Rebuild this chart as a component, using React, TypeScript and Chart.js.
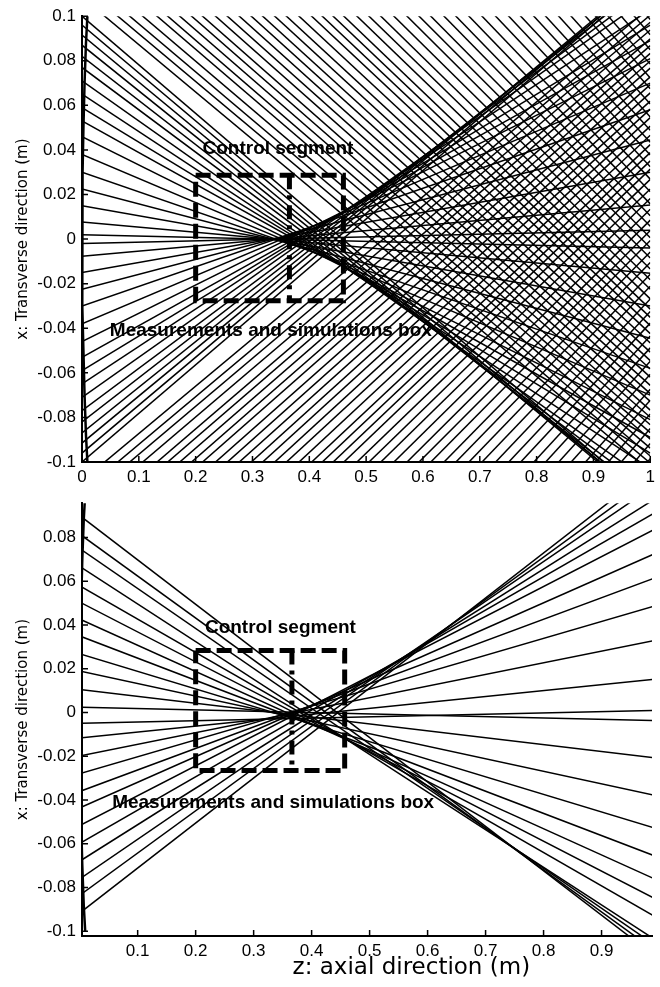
import React, { useEffect, useRef } from 'react';
import { Chart, registerables } from 'chart.js';

Chart.register(...registerables);

// ---------- TOP PANEL DATA ----------
// Rays launched from the upper half of the aperture: x (m) at z = 0 and at z = 1.
// Rays from the lower half of the aperture are the mirror images.
const topRayXAtZ0 = [
  0.002, 0.0077, 0.015, 0.0225, 0.03, 0.038, 0.046, 0.053, 0.059, 0.065, 0.071, 0.077,
  0.082, 0.087, 0.0915, 0.096, 0.1,
  0.1085, 0.1135, 0.1181, 0.1232, 0.1289, 0.1332, 0.1381, 0.143, 0.1476, 0.1531, 0.1582,
  0.1634, 0.1687, 0.1738, 0.1793, 0.1847, 0.1906, 0.1966, 0.2017, 0.207, 0.2123, 0.2189,
  0.225, 0.2311, 0.238, 0.245, 0.2515, 0.258, 0.2654, 0.2722, 0.2797, 0.2874, 0.2956,
  0.3036, 0.311, 0.3193, 0.3269, 0.3354, 0.3437, 0.3534, 0.3604, 0.3693, 0.3786, 0.3881,
  0.3979,
];
const topRayXAtZ1 = [
  -0.004, -0.0153, -0.03, -0.0445, -0.058, -0.07, -0.081, -0.089, -0.096, -0.103, -0.109,
  -0.113, -0.116, -0.118, -0.1195, -0.119, -0.118,
  -0.1041, -0.1005, -0.0973, -0.0938, -0.0898, -0.0868, -0.0833, -0.0799, -0.0767, -0.0728,
  -0.0693, -0.0656, -0.0619, -0.0583, -0.0545, -0.0507, -0.0466, -0.0424, -0.0388, -0.0351,
  -0.0314, -0.0268, -0.0225, -0.0182, -0.0134, -0.0085, -0.0039, 0.0006, 0.0058, 0.0105,
  0.0158, 0.0212, 0.0269, 0.0325, 0.0377, 0.0435, 0.0488, 0.0548, 0.0606, 0.0674, 0.0723,
  0.0785, 0.085, 0.0917, 0.0985,
];

// ---------- BOTTOM PANEL DATA ----------
const bottomRayXAtZ0 = [
  0.0901, 0.0816, 0.075, 0.0668, 0.0579, 0.0505, 0.0427, 0.035, 0.0268, 0.019, 0.0105, 0.0024,
  -0.005, -0.0117, -0.0199, -0.028, -0.0361, -0.0436, -0.0517, -0.0599, -0.068, -0.0761,
  -0.0836, -0.0917,
];
const bottomRayXAtZ1 = [
  -0.113, -0.1104, -0.1078, -0.1052, -0.0945, -0.0862, -0.0771, -0.0664, -0.0535, -0.0384,
  -0.021, -0.0037,
  0.001, 0.0154, 0.0334, 0.0494, 0.0623, 0.0736, 0.0849, 0.0926, 0.099, 0.1053, 0.1097, 0.1141,
];

// Transducer face (curved aperture)
const apertureZ = [0.0095, 0.007, 0.0045, 0.0025, 0.001, 0, 0.001, 0.0025, 0.0045, 0.007, 0.0095];
const apertureX = [0.1, 0.088, 0.07, 0.05, 0.03, 0, -0.03, -0.05, -0.07, -0.088, -0.1];

// Boxes: measurement box [zStart, zEnd], [xLow, xHigh]; control segment at z
const topBoxZ = [0.2, 0.46];
const topBoxX = [-0.0277, 0.0286];
const topControlZ = 0.365;
const bottomBoxZ = [0.2, 0.457];
const bottomBoxX = [-0.0265, 0.0283];
const bottomControlZ = 0.366;

// Annotation texts
const annotationTexts = ['Control segment', 'Measurements and simulations box'];
const topAnnotationZ = [0.212, 0.049];
const topAnnotationX = [0.0405, -0.041];
const bottomAnnotationZ = [0.216, 0.056];
const bottomAnnotationX = [0.0389, -0.0413];

// Ticks
const topZTicks = [0, 0.1, 0.2, 0.3, 0.4, 0.5, 0.6, 0.7, 0.8, 0.9, 1];
const topZLabels = ['0', '0.1', '0.2', '0.3', '0.4', '0.5', '0.6', '0.7', '0.8', '0.9', '1'];
const topXTicks = [-0.1, -0.08, -0.06, -0.04, -0.02, 0, 0.02, 0.04, 0.06, 0.08, 0.1];
const topXLabels = ['-0.1', '-0.08', '-0.06', '-0.04', '-0.02', '0', '0.02', '0.04', '0.06', '0.08', '0.1'];
const bottomZTicks = [0.1, 0.2, 0.3, 0.4, 0.5, 0.6, 0.7, 0.8, 0.9];
const bottomZLabels = ['0.1', '0.2', '0.3', '0.4', '0.5', '0.6', '0.7', '0.8', '0.9'];
const bottomXTicks = [-0.1, -0.08, -0.06, -0.04, -0.02, 0, 0.02, 0.04, 0.06, 0.08];
const bottomXLabels = ['-0.1', '-0.08', '-0.06', '-0.04', '-0.02', '0', '0.02', '0.04', '0.06', '0.08'];

const yTitle = 'x: Transverse direction (m)';
const xTitle = 'z: axial direction (m)';

const TICK_FONT = { family: '"Liberation Sans", Arial, Helvetica, sans-serif', size: 17 };

type PanelCfg = {
  rayX0: number[];
  rayX1: number[];
  mirror: boolean;
  boxZ: number[];
  boxX: number[];
  controlZ: number;
  annZ: number[];
  annX: number[];
  zMin: number;
  zMax: number;
  xMin: number;
  xMax: number;
  zTicks: number[];
  zLabels: string[];
  xTicks: number[];
  xLabels: string[];
  padTop: number;
  xAxisHeight: number;
  showXTitle: boolean;
  xTitleZ: number;
  xTitleY: number;
};

function buildDatasets(cfg: PanelCfg) {
  const rayStyle = {
    showLine: true,
    pointRadius: 0,
    borderColor: '#000',
    borderWidth: 1.5,
    fill: false,
  };
  const ds: any[] = [];
  cfg.rayX0.forEach((v, i) => {
    ds.push({ ...rayStyle, data: [{ x: 0, y: v }, { x: 1, y: cfg.rayX1[i] }] });
    if (cfg.mirror) {
      ds.push({ ...rayStyle, data: [{ x: 0, y: -v }, { x: 1, y: -cfg.rayX1[i] }] });
    }
  });
  ds.push({
    showLine: true,
    pointRadius: 0,
    borderColor: '#000',
    borderWidth: 2.5,
    data: apertureZ.map((z, i) => ({ x: z, y: apertureX[i] })),
  });
  const [z0, z1] = cfg.boxZ;
  const [xl, xh] = cfg.boxX;
  ds.push({
    showLine: true,
    pointRadius: 0,
    borderColor: '#000',
    borderWidth: 5,
    borderDash: [15, 6],
    borderCapStyle: 'butt',
    data: [
      { x: z0, y: xh },
      { x: z1, y: xh },
      { x: z1, y: xl },
      { x: z0, y: xl },
      { x: z0, y: xh },
    ],
  });
  ds.push({
    showLine: true,
    pointRadius: 0,
    borderColor: '#000',
    borderWidth: 5,
    borderDash: [14, 6, 4, 6],
    data: [
      { x: cfg.controlZ, y: xh },
      { x: cfg.controlZ, y: xl },
    ],
  });
  return ds;
}

function makePlugin(cfg: PanelCfg) {
  return {
    id: 'panelDecor',
    afterDatasetsDraw(chart: any) {
      const ctx = chart.ctx;
      const xs = chart.scales.x;
      const ys = chart.scales.y;
      const area = chart.chartArea;
      ctx.save();
      // inward tick marks
      ctx.strokeStyle = '#000';
      ctx.lineWidth = 1.5;
      ctx.beginPath();
      cfg.zTicks.forEach((t) => {
        const px = xs.getPixelForValue(t);
        ctx.moveTo(px, area.bottom);
        ctx.lineTo(px, area.bottom - 6);
      });
      cfg.xTicks.forEach((t) => {
        const py = ys.getPixelForValue(t);
        ctx.moveTo(area.left, py);
        ctx.lineTo(area.left + 6, py);
      });
      ctx.stroke();
      // annotations
      ctx.fillStyle = '#000';
      ctx.font = 'bold 19px "Liberation Sans", Arial, Helvetica, sans-serif';
      ctx.textAlign = 'left';
      ctx.textBaseline = 'middle';
      annotationTexts.forEach((t, i) => {
        ctx.fillText(t, xs.getPixelForValue(cfg.annZ[i]), ys.getPixelForValue(cfg.annX[i]));
      });
      // y title
      ctx.font = '15px "DejaVu Sans", Verdana, sans-serif';
      ctx.textAlign = 'center';
      ctx.textBaseline = 'middle';
      ctx.save();
      ctx.translate(23, (area.top + area.bottom) / 2);
      ctx.rotate(-Math.PI / 2);
      ctx.fillText(yTitle, 0, 0);
      ctx.restore();
      if (cfg.showXTitle) {
        ctx.font = '23px "DejaVu Sans", Verdana, sans-serif';
        ctx.textAlign = 'center';
        ctx.textBaseline = 'middle';
        ctx.fillText(xTitle, xs.getPixelForValue(cfg.xTitleZ), cfg.xTitleY);
      }
      ctx.restore();
    },
  };
}

function Panel({ cfg, width, height }: { cfg: PanelCfg; width: number; height: number }) {
  const ref = useRef<HTMLCanvasElement | null>(null);
  useEffect(() => {
    if (!ref.current) return;
    const chart = new Chart(ref.current, {
      type: 'scatter',
      data: { datasets: buildDatasets(cfg) },
      options: {
        responsive: false,
        animation: false,
        devicePixelRatio: 1,
        layout: { padding: { left: 0, right: 8, top: cfg.padTop, bottom: 0 } },
        plugins: { legend: { display: false }, tooltip: { enabled: false } },
        scales: {
          x: {
            type: 'linear',
            min: cfg.zMin,
            max: cfg.zMax,
            afterBuildTicks: (s: any) => {
              s.ticks = cfg.zTicks.map((v) => ({ value: v }));
            },
            afterFit: (s: any) => {
              s.height = cfg.xAxisHeight;
            },
            ticks: {
              callback: (_v: any, i: number) => cfg.zLabels[i],
              font: TICK_FONT,
              color: '#000',
              padding: 5,
              maxRotation: 0,
              autoSkip: false,
            },
            grid: { display: true, drawOnChartArea: false, drawTicks: false, color: '#000' },
            border: { display: true, color: '#000', width: 2 },
          },
          y: {
            type: 'linear',
            min: cfg.xMin,
            max: cfg.xMax,
            afterBuildTicks: (s: any) => {
              s.ticks = cfg.xTicks.map((v) => ({ value: v }));
            },
            afterFit: (s: any) => {
              s.width = 82;
            },
            ticks: {
              callback: (_v: any, i: number) => cfg.xLabels[i],
              font: TICK_FONT,
              color: '#000',
              padding: 6,
              autoSkip: false,
            },
            grid: { display: true, drawOnChartArea: false, drawTicks: false, color: '#000' },
            border: { display: true, color: '#000', width: 2 },
          },
        },
      } as any,
      plugins: [makePlugin(cfg)],
    });
    return () => chart.destroy();
  }, [cfg]);
  return <canvas ref={ref} width={width} height={height} style={{ display: 'block', width, height }} />;
}

const topCfg: PanelCfg = {
  rayX0: topRayXAtZ0,
  rayX1: topRayXAtZ1,
  mirror: true,
  boxZ: topBoxZ,
  boxX: topBoxX,
  controlZ: topControlZ,
  annZ: topAnnotationZ,
  annX: topAnnotationX,
  zMin: 0,
  zMax: 1,
  xMin: -0.1,
  xMax: 0.1,
  zTicks: topZTicks,
  zLabels: topZLabels,
  xTicks: topXTicks,
  xLabels: topXLabels,
  padTop: 14,
  xAxisHeight: 25,
  showXTitle: false,
  xTitleZ: 0.57,
  xTitleY: 0,
};

const bottomCfg: PanelCfg = {
  rayX0: bottomRayXAtZ0,
  rayX1: bottomRayXAtZ1,
  mirror: false,
  boxZ: bottomBoxZ,
  boxX: bottomBoxX,
  controlZ: bottomControlZ,
  annZ: bottomAnnotationZ,
  annX: bottomAnnotationX,
  zMin: 0.004,
  zMax: 0.987,
  xMin: -0.1022,
  xMax: 0.0957,
  zTicks: bottomZTicks,
  zLabels: bottomZLabels,
  xTicks: bottomXTicks,
  xLabels: bottomXLabels,
  padTop: 6,
  xAxisHeight: 51,
  showXTitle: true,
  xTitleZ: 0.572,
  xTitleY: 481,
};

export default function App() {
  return (
    <div style={{ position: 'absolute', left: 0, top: 0, width: 660, height: 987, background: '#fff' }}>
      <Panel cfg={topCfg} width={660} height={487} />
      <Panel cfg={bottomCfg} width={660} height={500} />
    </div>
  );
}
